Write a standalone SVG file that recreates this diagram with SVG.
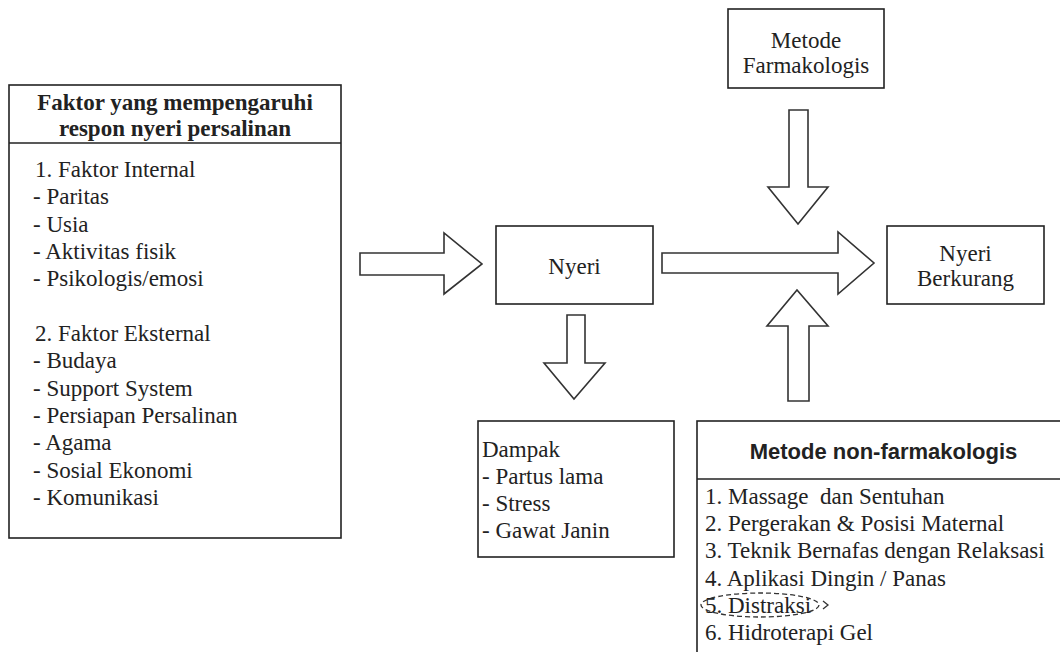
<svg xmlns="http://www.w3.org/2000/svg" width="1060" height="652" viewBox="0 0 1060 652">
<style>
.box{fill:#fff;stroke:#222;stroke-width:1.6}
.line{stroke:#222;stroke-width:1.6}
.arrow{fill:#fff;stroke:#333;stroke-width:1.6;stroke-linejoin:miter}
.t{font-family:'Liberation Serif','Times New Roman',Tinos,'DejaVu Serif',serif;font-size:23px;fill:#222;white-space:pre}
.tb{font-family:'Liberation Serif','Times New Roman',Tinos,'DejaVu Serif',serif;font-size:23px;font-weight:bold;fill:#222}
.ts{font-family:'Liberation Sans',Arial,sans-serif;font-size:22px;font-weight:bold;fill:#222}
.c{text-anchor:middle}
</style>
<rect width="1060" height="652" fill="#fff"/>
<g id="faktor">
<rect class="box" x="9" y="85" width="332" height="453"/>
<line class="line" x1="9" y1="143" x2="341" y2="143"/>
<text class="tb c" x="175" y="110" font-family="Liberation Serif">Faktor yang mempengaruhi</text>
<text class="tb c" x="175" y="136" font-family="Liberation Serif">respon nyeri persalinan</text>
<text class="t" font-family="Liberation Serif">
<tspan x="35" y="177">1. Faktor Internal</tspan>
<tspan x="33" y="204.3">- Paritas</tspan>
<tspan x="33" y="231.7">- Usia</tspan>
<tspan x="33" y="259">- Aktivitas fisik</tspan>
<tspan x="33" y="286.3">- Psikologis/emosi</tspan>
<tspan x="35" y="341">2. Faktor Eksternal</tspan>
<tspan x="33" y="368.3">- Budaya</tspan>
<tspan x="33" y="395.7">- Support System</tspan>
<tspan x="33" y="423">- Persiapan Persalinan</tspan>
<tspan x="33" y="450.3">- Agama</tspan>
<tspan x="33" y="477.7">- Sosial Ekonomi</tspan>
<tspan x="33" y="505">- Komunikasi</tspan>
</text>
</g>
<g id="nyeri">
<rect class="box" x="496" y="226" width="157" height="78"/>
<text class="t c" x="574.5" y="274" font-family="Liberation Serif">Nyeri</text>
</g>
<g id="farmakologis">
<rect class="box" x="728" y="9" width="156" height="79"/>
<text class="t c" x="806" y="48" font-family="Liberation Serif">Metode</text>
<text class="t c" x="806" y="73" font-family="Liberation Serif">Farmakologis</text>
</g>
<g id="berkurang">
<rect class="box" x="887" y="226" width="157" height="78"/>
<text class="t c" x="965.5" y="261" font-family="Liberation Serif">Nyeri</text>
<text class="t c" x="965.5" y="286" font-family="Liberation Serif">Berkurang</text>
</g>
<g id="dampak">
<rect class="box" x="478" y="421" width="196" height="136"/>
<text class="t" font-family="Liberation Serif">
<tspan x="482" y="457">Dampak</tspan>
<tspan x="482" y="484">- Partus lama</tspan>
<tspan x="482" y="511">- Stress</tspan>
<tspan x="482" y="538">- Gawat Janin</tspan>
</text>
</g>
<g id="nonfarmakologis">
<rect class="box" x="697" y="421" width="373" height="240"/>
<line class="line" x1="697" y1="479" x2="1070" y2="479"/>
<text class="ts c" x="883.5" y="459">Metode non-farmakologis</text>
<text class="t" font-family="Liberation Serif" xml:space="preserve"><tspan x="705" y="504">1. Massage  dan Sentuhan</tspan><tspan x="705" y="531.2">2. Pergerakan &amp; Posisi Maternal</tspan><tspan x="705" y="558.4">3. Teknik Bernafas dengan Relaksasi</tspan><tspan x="705" y="585.6">4. Aplikasi Dingin / Panas</tspan><tspan x="705" y="612.8">5. Distraksi</tspan><tspan x="705" y="640">6. Hidroterapi Gel</tspan></text>
<ellipse cx="760" cy="605" rx="59" ry="12" fill="none" stroke="#333" stroke-width="1.3" stroke-dasharray="5 3"/>
<polyline points="823,601 828,605 823,609" fill="none" stroke="#333" stroke-width="1.3"/>
</g>
<g id="connectors">
<polygon class="arrow" points="360,253 444,253 444,233 482,264 444,294 444,275 360,275"/>
<polygon class="arrow" points="662,253 838,253 838,232 874,263 838,294 838,273 662,273"/>
<polygon class="arrow" points="789,110 808,110 808,187 828,187 798,224 768,187 789,187"/>
<polygon class="arrow" points="788,401 809,401 809,326 828,326 797,290 767,326 788,326"/>
<polygon class="arrow" points="567,315 585,315 585,363 605,363 574,399 544,363 567,363"/>
</g>
</svg>
